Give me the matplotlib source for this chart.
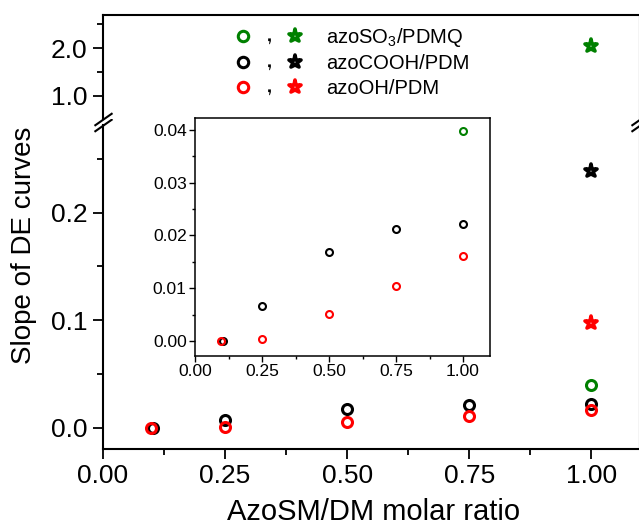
"""slope of DE curves vs AzoSM/DM molar ratio, broken y axis + inset"""
import matplotlib
matplotlib.use('Agg')
import matplotlib.pyplot as plt
from matplotlib.legend_handler import HandlerTuple
from matplotlib.lines import Line2D
from matplotlib.markers import MarkerStyle
from matplotlib.ticker import MultipleLocator, FormatStrFormatter

plt.rcParams['font.family'] = 'Liberation Sans'
plt.rcParams['mathtext.fontset'] = 'custom'
plt.rcParams['mathtext.rm'] = 'Liberation Sans'
plt.rcParams['mathtext.it'] = 'Liberation Sans:italic'

"""data read off the figure"""
ratio_so3 = [1.0]
ratio_cooh = [0.103, 0.25, 0.5, 0.75, 1.0]
ratio_oh = [0.098, 0.25, 0.5, 0.75, 1.0]
slope_so3_circle = [0.0398]
slope_cooh_circle = [0.0, 0.0066, 0.0168, 0.0213, 0.0222]
slope_oh_circle = [0.0, 0.0003, 0.0052, 0.0105, 0.0161]
ratio_star = [1.0]
slope_so3_star = [2.05]
slope_cooh_star = [0.239]
slope_oh_star = [0.097]
names = ['azoSO$_3$/PDMQ', 'azoCOOH/PDM', 'azoOH/PDM']
colors = ['#008000', 'black', '#ff0000']

series = [
    (ratio_so3, slope_so3_circle, slope_so3_star),
    (ratio_cooh, slope_cooh_circle, slope_cooh_star),
    (ratio_oh, slope_oh_circle, slope_oh_star),
]

"""layout in pixels"""
W, H = 639, 532
def px_rect(l, t, r, b):
    return [l / W, 1 - b / H, (r - l) / W, (b - t) / H]

fig = plt.figure(figsize=(W / 100, H / 100), dpi=100, facecolor='white')
ax_bot = fig.add_axes(px_rect(103, 124.5, 640, 449))
ax_top = fig.add_axes(px_rect(103, 14.7, 640, 118.5))
ax_in = fig.add_axes(px_rect(195, 118, 490, 356))

star = MarkerStyle('*', joinstyle='round')

for (xc, yc, ys), col in zip(series, colors):
    for ax in (ax_top, ax_bot):
        ax.plot(xc, yc, 'o', ls='none', mfc='none', mec=col, ms=7.2, mew=2.2)
        ax.plot(ratio_star, ys, marker=star, ls='none', mfc='white', mec=col, ms=9.5, mew=2.6)
    ax_in.plot(xc, yc, 'o', ls='none', mfc='none', mec=col, ms=5, mew=1.5)

"""main axes"""
ax_bot.set_xlim(0, 1.1)
ax_top.set_xlim(0, 1.1)
ax_bot.set_ylim(-0.02, 0.2819)
ax_top.set_ylim(0.528, 2.704)

ax_bot.spines['top'].set_visible(False)
ax_top.spines['bottom'].set_visible(False)
for ax in (ax_top, ax_bot):
    for s in ax.spines.values():
        s.set_linewidth(1.5)
    ax.tick_params(which='major', direction='out', length=7, width=1.3, labelsize=19, pad=4,
                   right=False, top=False)
    ax.tick_params(which='minor', direction='out', length=4, width=1.3, right=False, top=False)
ax_top.tick_params(axis='x', which='both', bottom=False, labelbottom=False)

ax_bot.xaxis.set_major_locator(MultipleLocator(0.25))
ax_bot.xaxis.set_minor_locator(MultipleLocator(0.125))
ax_bot.xaxis.set_major_formatter(FormatStrFormatter('%.2f'))
ax_bot.yaxis.set_major_locator(MultipleLocator(0.1))
ax_bot.yaxis.set_minor_locator(MultipleLocator(0.05))
ax_bot.yaxis.set_major_formatter(FormatStrFormatter('%.1f'))
ax_top.yaxis.set_major_locator(MultipleLocator(1.0))
ax_top.yaxis.set_minor_locator(MultipleLocator(0.5))
ax_top.yaxis.set_major_formatter(FormatStrFormatter('%.1f'))

"""break marks"""
kw = dict(marker=[(-1, -0.7), (1, 0.7)], markersize=13, linestyle='none',
          color='k', mec='k', mew=1.5, clip_on=False)
ax_top.plot([0, 1], [0, 0], transform=ax_top.transAxes, **kw)
ax_bot.plot([0, 1], [1, 1], transform=ax_bot.transAxes, **kw)

"""inset"""
ax_in.set_xlim(0, 1.1007)
ax_in.set_ylim(-0.00284, 0.04227)
ax_in.xaxis.set_major_locator(MultipleLocator(0.25))
ax_in.xaxis.set_minor_locator(MultipleLocator(0.125))
ax_in.xaxis.set_major_formatter(FormatStrFormatter('%.2f'))
ax_in.yaxis.set_major_locator(MultipleLocator(0.01))
ax_in.yaxis.set_minor_locator(MultipleLocator(0.005))
ax_in.yaxis.set_major_formatter(FormatStrFormatter('%.2f'))
ax_in.tick_params(which='major', direction='out', length=4, width=1, labelsize=12.5, pad=2)
ax_in.tick_params(which='minor', direction='out', length=2.5, width=1)
for s in ax_in.spines.values():
    s.set_linewidth(1.1)

"""legend: circle , star  label"""
comma_shape = [(-0.18, -0.25), (0.18, -0.25), (0.18, -0.6), (0.05, -1.0),
               (-0.05, -1.0), (0.0, -0.6), (-0.18, -0.6)]
handles = []
for col in colors:
    c = Line2D([], [], ls='none', marker='o', mfc='none', mec=col, ms=7.5, mew=2.2)
    comma = Line2D([], [], ls='none', marker=comma_shape, mfc='k', mec='k', ms=11, mew=0)
    s = Line2D([], [], ls='none', marker=star, mfc='white', mec=col, ms=9.5, mew=2.6)
    handles.append((c, comma, s))
ax_top.legend(handles, names, handler_map={tuple: HandlerTuple(ndivide=None, pad=0)},
              loc='upper left', bbox_to_anchor=(230 / W, 1 - 26 / H),
              bbox_transform=fig.transFigure, frameon=False, fontsize=14.5,
              handlelength=3.9, handletextpad=0.85, labelspacing=0.27,
              borderpad=0, borderaxespad=0)

"""axis labels"""
fig.text(24 / W, 1 - 245 / H, 'Slope of DE curves', rotation=90,
         ha='center', va='center', fontsize=20)
fig.text(374 / W, 1 - 512 / H, 'AzoSM/DM molar ratio', ha='center', va='center', fontsize=21)

fig.savefig('out.png', dpi=100)
